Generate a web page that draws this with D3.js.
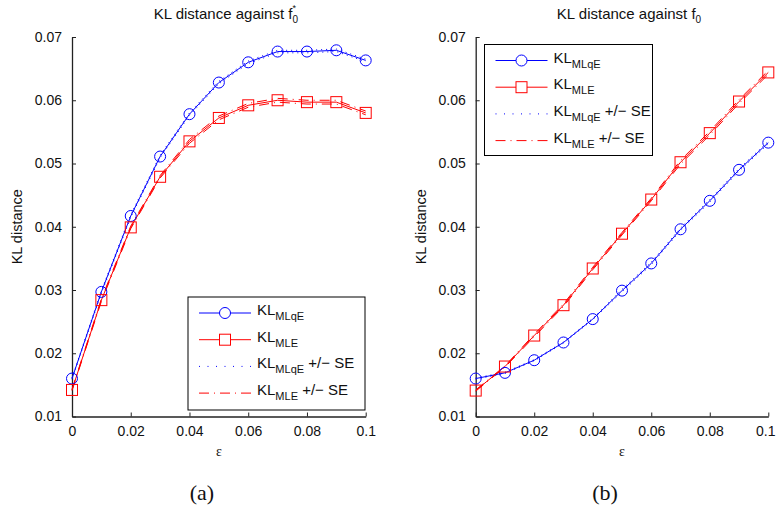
<!DOCTYPE html>
<html>
<head>
<meta charset="utf-8">
<script src="https://cdn.jsdelivr.net/npm/d3@7"></script>
<style>
  body { margin: 0; background: #fff; }
  svg { display: block; font-family: "Liberation Sans", Arial, sans-serif; }
</style>
</head>
<body>
<div id="chart"></div>
<script>
// KL distance of MLqE vs MLE against contamination epsilon
const eps = [0, 0.01, 0.02, 0.03, 0.04, 0.05, 0.06, 0.07, 0.08, 0.09, 0.1];
const xTicks = [0, 0.02, 0.04, 0.06, 0.08, 0.1];
const yTicks = [0.01, 0.02, 0.03, 0.04, 0.05, 0.06, 0.07];

// panel (a): against f0*
const mlqeA = [0.0160, 0.0297, 0.0417, 0.0511, 0.0578, 0.0628, 0.0660, 0.0677, 0.0677, 0.0679, 0.0663];
const mleA  = [0.0142, 0.0284, 0.0399, 0.0479, 0.0535, 0.0572, 0.0592, 0.0600, 0.0597, 0.0597, 0.0580];
const seMlqeA = [0.0001, 0.0002, 0.0002, 0.0002, 0.0002, 0.0002, 0.0002, 0.0002, 0.0002, 0.0002, 0.0002];
const seMleA  = [0.0001, 0.0002, 0.0002, 0.0002, 0.0003, 0.0003, 0.0003, 0.0003, 0.0003, 0.0003, 0.0003];

// panel (b): against f0
const mlqeB = [0.0160, 0.0169, 0.0189, 0.0217, 0.0254, 0.0299, 0.0342, 0.0396, 0.0441, 0.0490, 0.0533];
const mleB  = [0.0141, 0.0179, 0.0228, 0.0276, 0.0334, 0.0389, 0.0443, 0.0502, 0.0548, 0.0598, 0.0644];
const seMlqeB = [0.0001, 0.0001, 0.0001, 0.0001, 0.0001, 0.0002, 0.0002, 0.0002, 0.0002, 0.0002, 0.0002];
const seMleB  = [0.0001, 0.0001, 0.0002, 0.0002, 0.0002, 0.0002, 0.0002, 0.0003, 0.0003, 0.0003, 0.0003];

const width = 777, height = 514;
const svg = d3.select("#chart").append("svg")
    .attr("width", width)
    .attr("height", height);

const blue = "#0000ff", red = "#ff0000";
const dotted = "1,4";
const dashDot = "10,5,1,5";

function panel(opts) {
  const x = d3.scaleLinear().domain([0, 0.1]).range([opts.x0, opts.x1]);
  const y = d3.scaleLinear().domain([0.01, 0.07]).range([416.5, 37]);
  const g = svg.append("g");

  // axes (no box)
  g.append("g")
      .attr("transform", `translate(0,${y(0.01)})`)
      .call(d3.axisBottom(x).tickValues(xTicks).tickFormat(d3.format("~g"))
        .tickSizeInner(-4).tickSizeOuter(0).tickPadding(10))
      .call(a => a.select(".domain").attr("stroke", "#222").attr("stroke-width", 1.3))
      .call(a => a.selectAll(".tick line").attr("stroke", "#222"))
      .call(a => a.selectAll("text").attr("font-size", 14).attr("fill", "#111"))
      // keep the last label inside the page
      .call(a => a.selectAll(".tick text").filter(d => d === 0.1 && opts.x1 > 700).attr("dx", -3));
  g.append("g")
      .attr("transform", `translate(${x(0)},0)`)
      .call(d3.axisLeft(y).tickValues(yTicks).tickFormat(d3.format("~g"))
        .tickSizeInner(-4).tickSizeOuter(0).tickPadding(10))
      .call(a => a.select(".domain").attr("stroke", "#222").attr("stroke-width", 1.3))
      .call(a => a.selectAll(".tick line").attr("stroke", "#222"))
      .call(a => a.selectAll("text").attr("font-size", 14).attr("fill", "#111"));

  const line = d3.line().x((d, i) => x(eps[i])).y(d => y(d));

  // +/- SE lines
  [1, -1].forEach(s => {
    g.append("path")
        .datum(opts.mlqe.map((v, i) => v + s * opts.seMlqe[i]))
        .attr("d", line).attr("fill", "none")
        .attr("stroke", blue).attr("stroke-width", 1).attr("stroke-dasharray", dotted);
    g.append("path")
        .datum(opts.mle.map((v, i) => v + s * opts.seMle[i]))
        .attr("d", line).attr("fill", "none")
        .attr("stroke", red).attr("stroke-width", 1).attr("stroke-dasharray", dashDot);
  });

  // main lines
  g.append("path").datum(opts.mlqe).attr("d", line)
      .attr("fill", "none").attr("stroke", blue).attr("stroke-width", 1);
  g.append("path").datum(opts.mle).attr("d", line)
      .attr("fill", "none").attr("stroke", red).attr("stroke-width", 1);

  // markers
  g.selectAll(".circ").data(opts.mlqe).enter().append("circle")
      .attr("cx", (d, i) => x(eps[i])).attr("cy", d => y(d)).attr("r", 5.5)
      .attr("fill", "none").attr("stroke", blue).attr("stroke-width", 1);
  g.selectAll(".sq").data(opts.mle).enter().append("rect")
      .attr("x", (d, i) => x(eps[i]) - 5.5).attr("y", d => y(d) - 5.5)
      .attr("width", 11).attr("height", 11)
      .attr("fill", "none").attr("stroke", red).attr("stroke-width", 1);

  // title
  const cx = (opts.x0 + opts.x1) / 2 + 7;
  const t = g.append("text").attr("x", cx).attr("y", 19)
      .attr("text-anchor", "middle").attr("font-size", 15).attr("fill", "#111");
  t.append("tspan").text("KL distance against f");
  t.append("tspan").attr("font-size", 10).attr("dy", 4).text("0");
  if (opts.star) {
    // superscript star sitting above the subscript
    t.append("tspan").attr("font-size", 9).attr("dx", -5.5).attr("dy", -12).text("*");
  }

  // axis labels
  g.append("text")
      .attr("transform", `translate(${opts.x0 - 50},${(y(0.01) + y(0.07)) / 2}) rotate(-90)`)
      .attr("text-anchor", "middle").attr("font-size", 14.5).attr("fill", "#111")
      .text("KL distance");
  g.append("text").attr("x", (opts.x0 + opts.x1) / 2).attr("y", 456)
      .attr("text-anchor", "middle").attr("font-size", 14)
      .attr("font-family", "'Liberation Serif', serif").attr("fill", "#111")
      .text("ε");
  g.append("text").attr("x", opts.capX).attr("y", 500)
      .attr("text-anchor", "middle").attr("font-size", 22)
      .attr("font-family", "'Liberation Serif', 'DejaVu Serif', serif").attr("fill", "#111")
      .text(opts.caption);

  // legend
  const L = opts.legend;
  const lg = g.append("g").attr("transform", `translate(${L.x},${L.y})`);
  lg.append("rect").attr("width", L.w).attr("height", L.h)
      .attr("fill", "white").attr("stroke", "black").attr("stroke-width", 1);
  const entries = [
    { sub: "MLqE", extra: "", color: blue, dash: null, marker: "circle" },
    { sub: "MLE", extra: "", color: red, dash: null, marker: "square" },
    { sub: "MLqE", extra: " +/\u2212 SE", color: blue, dash: "1,7.5", marker: null },
    { sub: "MLE", extra: " +/\u2212 SE", color: red, dash: dashDot, marker: null }
  ];
  entries.forEach((e, i) => {
    const yy = 16 + i * 26.7;
    lg.append("line").attr("x1", 11).attr("x2", 63).attr("y1", yy).attr("y2", yy)
        .attr("stroke", e.color).attr("stroke-width", 1)
        .attr("stroke-dasharray", e.dash);
    if (e.marker === "circle") {
      lg.append("circle").attr("cx", 37).attr("cy", yy).attr("r", 5.5)
          .attr("fill", "white").attr("stroke", e.color);
    } else if (e.marker === "square") {
      lg.append("rect").attr("x", 31.5).attr("y", yy - 5.5).attr("width", 11).attr("height", 11)
          .attr("fill", "white").attr("stroke", e.color);
    }
    const tx = lg.append("text").attr("x", 69).attr("y", yy + 2)
        .attr("font-size", 15).attr("fill", "#111");
    tx.append("tspan").text("KL");
    tx.append("tspan").attr("font-size", 11).attr("dy", 5).text(e.sub);
    if (e.extra) tx.append("tspan").attr("dy", -5).text(e.extra);
  });
}

panel({
  x0: 72, x1: 365.7, caption: "(a)", capX: 202, star: true,
  mlqe: mlqeA, mle: mleA, seMlqe: seMlqeA, seMle: seMleA,
  legend: { x: 188, y: 297, w: 177, h: 113 }
});
panel({
  x0: 475.7, x1: 768.3, caption: "(b)", capX: 605, star: false,
  mlqe: mlqeB, mle: mleB, seMlqe: seMlqeB, seMle: seMleB,
  legend: { x: 484.5, y: 44.5, w: 168, h: 111 }
});
</script>
</body>
</html>
